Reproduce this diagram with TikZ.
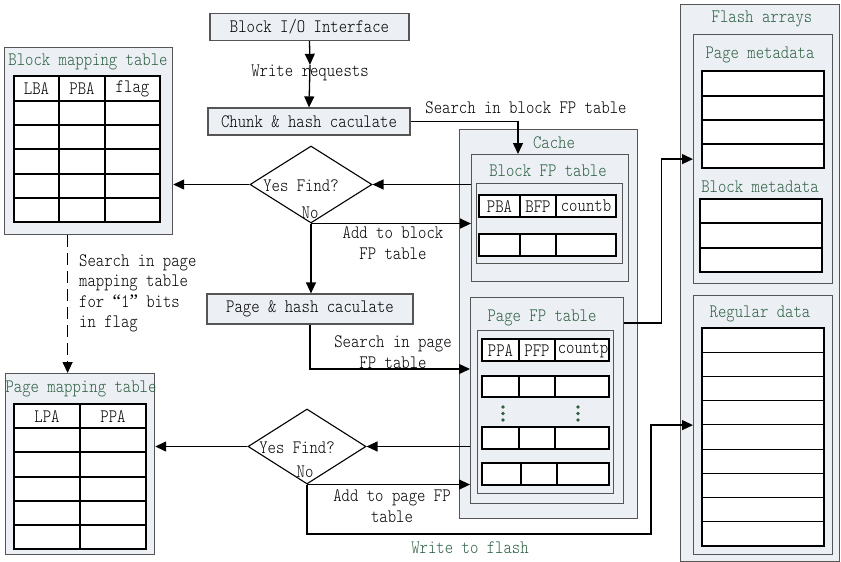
\documentclass[tikz,border=0pt]{standalone}
\usepackage{fontspec}
\usetikzlibrary{shapes.geometric,arrows.meta,calc}
\newfontfamily\simfont{lmmonolt10-regular.otf}[FakeStretch=0.84]
\newfontfamily\quotefont{Liberation Serif}
\newcommand{\simtext}{\simfont\fontsize{19}{20.5}\selectfont}
\definecolor{boxfill}{RGB}{236,240,245}
\definecolor{boxline}{RGB}{85,85,85}
\definecolor{titlegreen}{RGB}{45,95,65}
\tikzset{
  panel/.style={draw=boxline, fill=boxfill, line width=1.2pt, inner sep=0pt, rectangle, anchor=north west},
  procbox/.style={draw=boxline, fill=boxfill, line width=1.2pt, inner sep=0pt, rectangle, font=\simtext},
  txt/.style={font=\simtext, inner sep=0pt, align=center},
  lefttxt/.style={font=\simtext, inner sep=0pt, align=left},
  title/.style={txt, text=titlegreen},
  arr/.style={line width=1.3pt, -{Triangle[length=11pt,width=10pt]}},
  conn/.style={line width=1.3pt},
  cell/.style={draw=black, line width=1.1pt, fill=white},
  tline/.style={draw=black, line width=1.1pt},
  decision/.style={diamond, draw=black, line width=1.1pt, inner sep=0pt, fill=white},
}
\begin{document}
\begin{tikzpicture}[x=1pt,y=-1pt]
\useasboundingbox (0,0) rectangle (841,562);

% ---------- process boxes ----------
\node[procbox, minimum width=199pt, minimum height=27pt] (io) at (309.5,27) {Block I/O Interface};
\node[txt] (wr) at (310,73) {Write requests};
\node[procbox, minimum width=202pt, minimum height=27pt] (chunk) at (309,121.5) {Chunk \& hash caculate};
\node[procbox, minimum width=206pt, minimum height=30pt] (phash) at (310,309) {Page \& hash caculate};

% ---------- decisions ----------
\node[decision, minimum width=122pt, minimum height=77pt] (d1) at (311,184.5) {};
\node[txt] (d1t) at (301,186) {Yes Find?};
\node[txt] (d1n) at (310,213) {No};
\node[decision, minimum width=118pt, minimum height=75pt] (d2) at (307,446.5) {};
\node[txt] (d2t) at (297,448) {Yes Find?};
\node[txt] (d2n) at (305,472) {No};

% ---------- block mapping table ----------
\node[panel, minimum width=168pt, minimum height=187pt] (bmt) at (4,47) {};
\node[title] (bmtt) at (88,62) {Block mapping table};
\draw[cell] (14,76) rectangle (160,222);
\foreach \y in {101,125,149,174,198} \draw[tline] (14,\y) -- (160,\y);
\foreach \x in {59,105} \draw[tline] (\x,76) -- (\x,222);
\node[txt] (lba) at (36.5,89) {LBA};
\node[txt] (pba1) at (82,89) {PBA};
\node[txt] (flag) at (132.5,89) {flag};

% ---------- page mapping table ----------
\node[panel, minimum width=149pt, minimum height=181pt] (pmt) at (5,373) {};
\node[title] (pmtt) at (81,389) {Page mapping table};
\draw[cell] (14,404) rectangle (146,549);
\foreach \y in {428,452,477,501,525} \draw[tline] (14,\y) -- (146,\y);
\draw[tline] (80,404) -- (80,549);
\node[txt] (lpa) at (47,417) {LPA};
\node[txt] (ppa1) at (113,417) {PPA};

% ---------- cache ----------
\node[panel, minimum width=178pt, minimum height=389pt] (cache) at (459,129) {};
\node[title] (cachet) at (554,143) {Cache};
\node[panel, minimum width=157pt, minimum height=127pt] (bfp) at (471,154) {};
\node[title] (bfpt) at (548,171) {Block FP table};
\node[panel, line width=1pt, minimum width=146pt, minimum height=80pt] (bfpin) at (476,183) {};
\draw[cell] (479,195) rectangle (616,217);
\draw[tline] (520,195) -- (520,217) (556,195) -- (556,217);
\draw[cell] (479,234) rectangle (616,256);
\draw[tline] (520,234) -- (520,256) (556,234) -- (556,256);
\node[txt] (pba2) at (499.5,207) {PBA};
\node[txt] (bfph) at (538,207) {BFP};
\node[txt] (cntb) at (586,206) {countb};

\node[panel, minimum width=153pt, minimum height=206pt] (pfp) at (470,297) {};
\node[title] (pfpt) at (542,318) {Page FP table};
\node[panel, line width=1pt, minimum width=136pt, minimum height=163pt] (pfpin) at (477,330) {};
\foreach \ya/\yb in {339/361,376/397,427/449} {
  \draw[cell] (482,\ya) rectangle (609,\yb);
  \draw[tline] (519,\ya) -- (519,\yb) (555,\ya) -- (555,\yb);
}
\draw[cell] (482,463) rectangle (609,485);
\draw[tline] (521,463) -- (521,485) (557,463) -- (557,485);
\node[txt] (ppa2) at (500.5,351) {PPA};
\node[txt] (pfph) at (537,351) {PFP};
\node[txt] (cntp) at (583,350) {countp};
\foreach \x in {503,578} \foreach \y in {407,413.5,420} \fill[titlegreen] (\x,\y) circle (1.8pt);

% ---------- flash arrays ----------
\node[panel, minimum width=159pt, minimum height=557pt] (flash) at (680,4) {};
\node[title] (flasht) at (762,19) {Flash arrays};
\node[panel, minimum width=139pt, minimum height=249pt] (meta) at (693,34) {};
\node[title] (pmetat) at (760,55) {Page metadata};
\foreach \ya/\yb in {71/96,96/120,120/144,144/168} \draw[cell] (702,\ya) rectangle (824,\yb);
\node[title] (bmetat) at (760,187) {Block metadata};
\foreach \ya/\yb in {199/223,223/248,248/272} \draw[cell] (700,\ya) rectangle (822,\yb);
\node[panel, minimum width=139pt, minimum height=259pt] (reg) at (693,295) {};
\node[title] (regt) at (760,314) {Regular data};
\foreach \k in {0,...,8} \draw[cell] (702,{328+24.22*\k}) rectangle (824,{328+24.22*(\k+1)});

% ---------- labels ----------
\node[txt] (lsb) at (526,108) {Search in block FP table};
\node[txt] (ladd1) at (393,243) {Add to block\\FP table};
\node[txt] (lsp) at (393,352) {Search in page\\FP table};
\node[txt] (ladd2) at (392,506) {Add to page FP\\table};
\node[title] (lwf) at (470,548) {Write to flash};
\node[lefttxt, anchor=north west] (lsm) at (79,254) {Search in page\\mapping table\\for {\quotefont “}1{\quotefont ”} bits\\in flag};

% ---------- connectors ----------
\draw[arr] (io.south) -- (wr.north);
\draw[arr] (wr.north) -- (chunk.north);
\draw[arr] (chunk.east) -| ([xshift=47pt]bfp.north west);
\draw[arr] (bfp.west |- d1.east) -- (d1.east);
\draw[arr] (d1.west) -- (d1.west -| bmt.east);
\draw[arr] (d1.south) -- (d1.south -| bfp.west);
\draw[arr] (d1.south) -- (d1.south |- phash.north);
\draw[arr] (phash.south) |- ([yshift=-72pt]pfp.north west);
\draw[arr] (pfp.west |- d2.east) -- (d2.east);
\draw[arr] (d2.west) -- (d2.west -| pmt.east);
\draw[arr] (d2.south) -- (d2.south -| pfp.west);
\coordinate (w1) at (651,534);
\draw[arr] (d2.south) |- (w1) |- (reg.west);
\draw[arr] ([yshift=-26pt]pfp.north east) -- ++(37,0) |- (meta.west);
\draw[arr, dash pattern=on 12pt off 6pt] ([xshift=-21pt]bmt.south) -- ([xshift=-21pt]bmt.south |- pmt.north);
\end{tikzpicture}
\end{document}
